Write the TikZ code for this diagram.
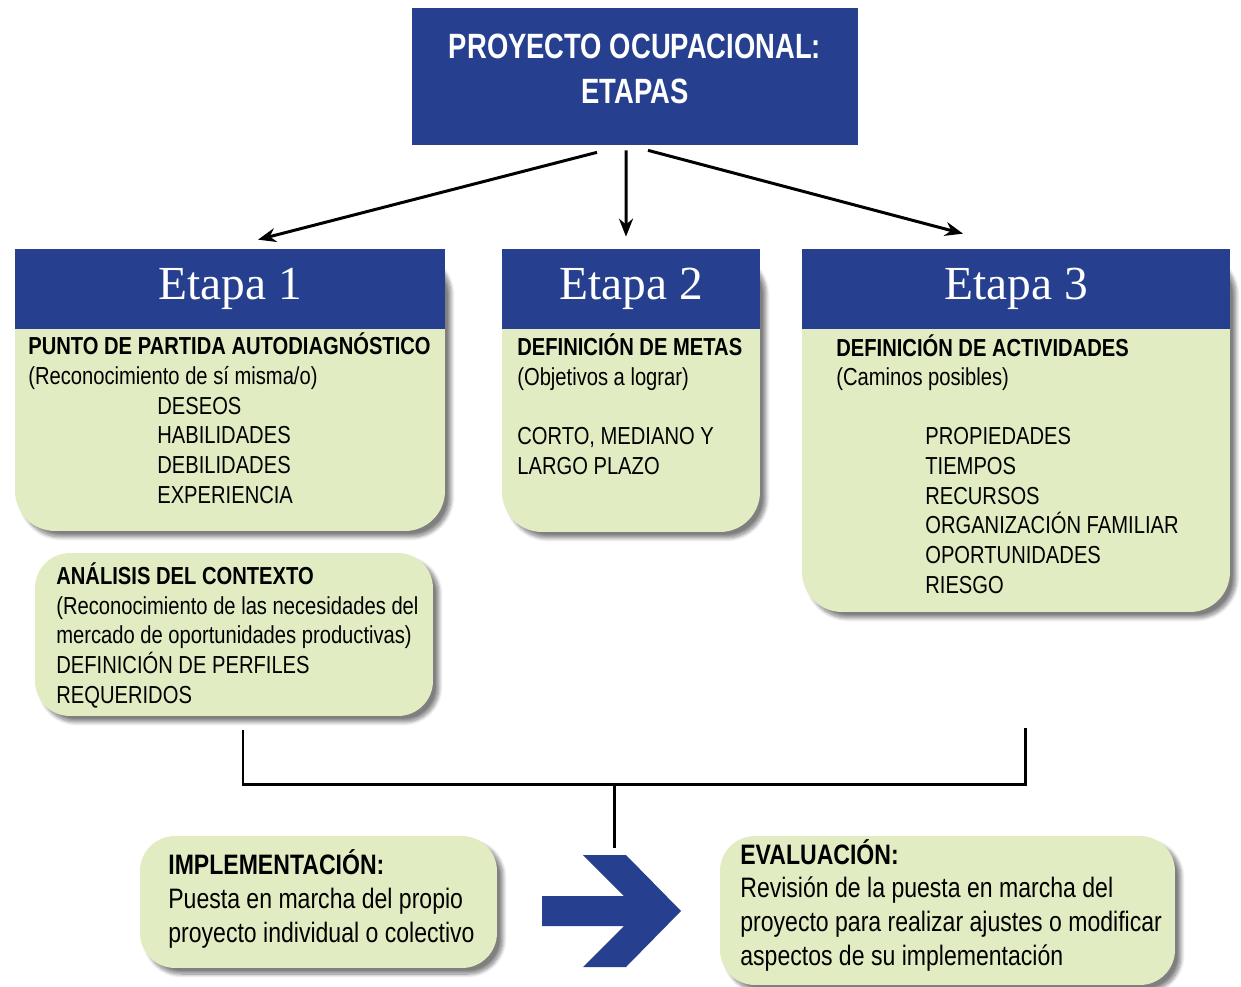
\documentclass[tikz,border=0pt]{standalone}
\usepackage{fontspec}
\setmainfont{Liberation Sans}[FakeStretch=0.82]
\newfontfamily\titulofont{Liberation Sans}[FakeStretch=0.78]
\newfontfamily\etapafont{Liberation Serif}
\usetikzlibrary{arrows.meta,shadows.blur}
\definecolor{azul}{RGB}{38,64,143}
\definecolor{verde}{RGB}{226,236,194}

\begin{document}
\begin{tikzpicture}[
       x=0.02cm, y=-0.02cm,
       sombra/.style={blur shadow={shadow xshift=0.12cm, shadow yshift=-0.12cm, shadow opacity=50, shadow blur steps=10}},
       titulo/.style={fill=azul, text=white, minimum width=8.92cm, minimum height=2.74cm, align=center, text depth=0.32cm, font=\titulofont\bfseries\fontsize{20}{25.6}\selectfont},
       cuerpo/.style={fill=verde, rounded corners=0.8cm, sombra},
       cabecera/.style={fill=azul, text=white, minimum height=1.6cm, font=\etapafont\fontsize{27}{30}\selectfont},
       texto/.style={anchor=base west, align=left, inner sep=0pt, font=\fontsize{14}{16.85}\selectfont},
       textog/.style={texto, font=\fontsize{16}{19.1}\selectfont},
       flecha/.style={line width=1.7pt, -{Stealth[length=0.36cm, width=0.28cm]}},
       linea/.style={line width=1.7pt}
   ]
   \useasboundingbox (0,0) rectangle (1241,987);

   \node[titulo] (titulo) at (635,76.5) {PROYECTO OCUPACIONAL:\\ETAPAS};

   \foreach \n/\x/\w/\y/\h in {1/230/8.6/390/5.64, 2/631/5.16/390.5/5.66, 3/1016/8.56/430.5/7.26} {
       \node[cuerpo, minimum width=\w cm, minimum height=\h cm] (e\n) at (\x,\y) {};
       \node[cabecera, minimum width=\w cm] (h\n) at (\x,289) {Etapa \n};
   }

   \node[cuerpo, rounded corners=0.7cm, minimum width=7.96cm, minimum height=3.26cm] (an) at (234,634.5) {};
   \node[cuerpo, rounded corners=0.7cm, minimum width=7.14cm, minimum height=2.64cm] (im) at (318.5,902) {};
   \node[cuerpo, rounded corners=0.7cm, minimum width=9.1cm, minimum height=2.98cm] (ev) at (947.5,910.5) {};

   \node[texto] (t1) at (28,503) {\textbf{PUNTO DE PARTIDA AUTODIAGNÓSTICO}\\
       (Reconocimiento de sí misma/o)\\
       \hspace*{2.58cm}DESEOS\\
       \hspace*{2.58cm}HABILIDADES\\
       \hspace*{2.58cm}DEBILIDADES\\
       \hspace*{2.58cm}EXPERIENCIA};
   \node[texto] (t2) at (517,474) {\textbf{DEFINICIÓN DE METAS}\\
       (Objetivos a lograr)\\[16.85pt]
       CORTO, MEDIANO Y\\
       LARGO PLAZO};
   \node[texto] (t3) at (836,593) {\textbf{DEFINICIÓN DE ACTIVIDADES}\\
       (Caminos posibles)\\[16.85pt]
       \hspace*{1.78cm}PROPIEDADES\\
       \hspace*{1.78cm}TIEMPOS\\
       \hspace*{1.78cm}RECURSOS\\
       \hspace*{1.78cm}ORGANIZACIÓN FAMILIAR\\
       \hspace*{1.78cm}OPORTUNIDADES\\
       \hspace*{1.78cm}RIESGO};
   \node[texto] (ta) at (56,703) {\textbf{ANÁLISIS DEL CONTEXTO}\\
       (Reconocimiento de las necesidades del\\
       mercado de oportunidades productivas)\\
       DEFINICIÓN DE PERFILES\\
       REQUERIDOS};
   \node[textog] (ti) at (168,942) {\textbf{IMPLEMENTACIÓN:}\\
       Puesta en marcha del propio\\
       proyecto individual o colectivo};
   \node[textog] (te) at (740,965) {\textbf{EVALUACIÓN:}\\
       Revisión de la puesta en marcha del\\
       proyecto para realizar ajustes o modificar\\
       aspectos de su implementación};

   \draw[flecha] ([xshift=-0.76cm, yshift=-0.14cm]titulo.south) -- ([xshift=0.56cm, yshift=0.18cm]h1.north);
   \draw[flecha] ([xshift=-0.18cm, yshift=-0.1cm]titulo.south) -- ([xshift=-0.1cm, yshift=0.24cm]h2.north);
   \draw[flecha] ([xshift=0.26cm, yshift=-0.1cm]titulo.south) -- ([xshift=-1.06cm, yshift=0.3cm]h3.north);

   \coordinate (b1) at ([xshift=0.18cm, yshift=-0.28cm]an.south);
   \coordinate (b3) at ([xshift=0.18cm, yshift=-2.32cm]e3.south);
   \coordinate (punta) at (614,848);
   \draw[linea] (b1) -- ++(0,54) coordinate (b2) -| (b3);
   \draw[linea] (b2 -| punta) -- (punta);

   \fill[azul] (542,896) -- (624,896) -- (583,855) -- (626,855) -- (681,911)
       -- (626,967) -- (583,967) -- (624,926) -- (542,926) -- cycle;
\end{tikzpicture}
\end{document}
